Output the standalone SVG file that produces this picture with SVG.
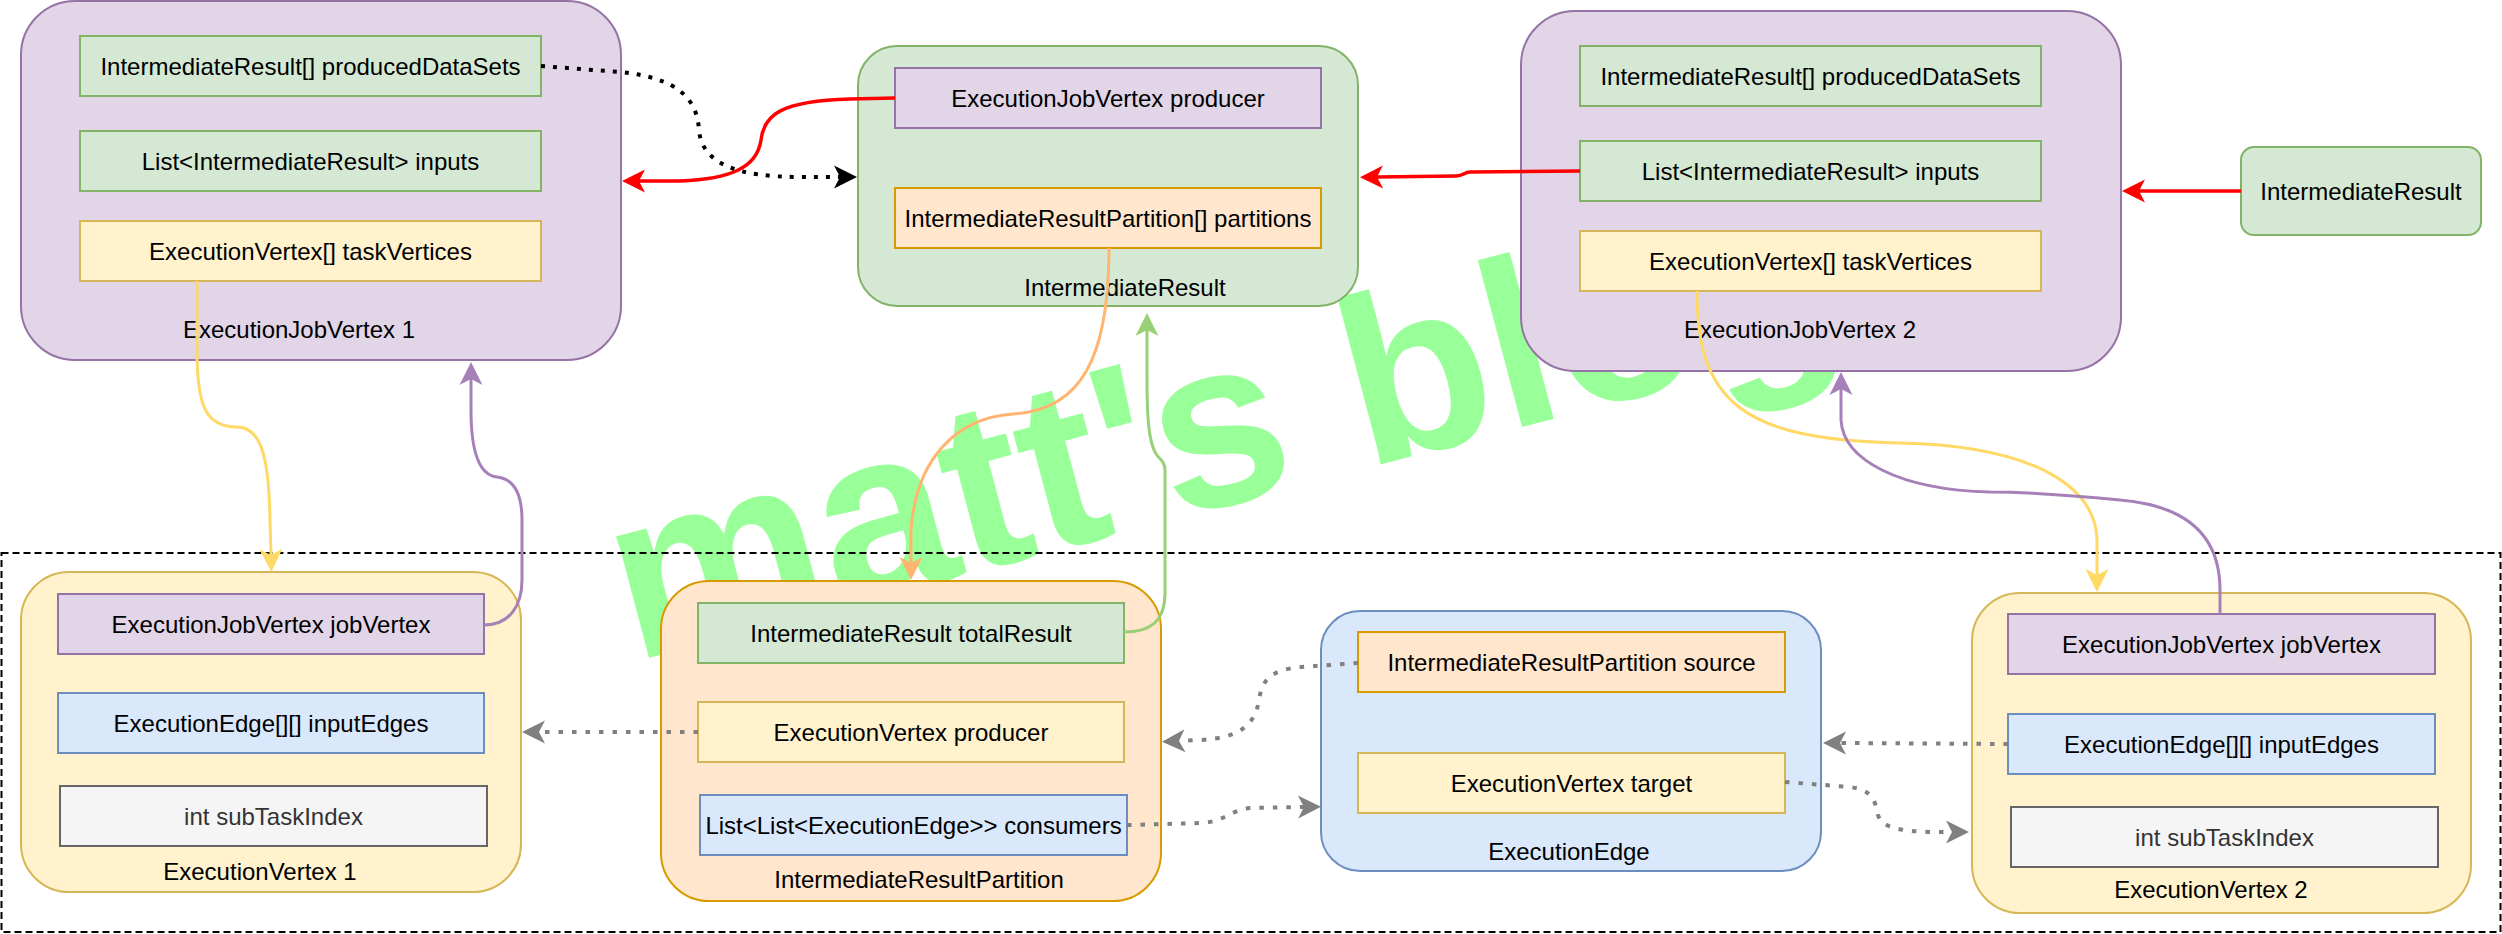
<svg xmlns="http://www.w3.org/2000/svg" width="2502" height="934" viewBox="0 0 2502 934">
<style>
.t{font-family:"Liberation Sans",Arial,Helvetica,sans-serif;font-size:24px;fill:#000;text-anchor:middle}
.tg{fill:#333}
.pu{fill:#e1d5e7;stroke:#9673a6;stroke-width:2}
.gr{fill:#d5e8d4;stroke:#82b366;stroke-width:2}
.ye{fill:#fff2cc;stroke:#d6b656;stroke-width:2}
.or{fill:#ffe6cc;stroke:#d79b00;stroke-width:2}
.bl{fill:#dae8fc;stroke:#6c8ebf;stroke-width:2}
.gy{fill:#f5f5f5;stroke:#666666;stroke-width:2}
.c{fill:none}
.red{stroke:#FF0000;stroke-width:3.5;marker-end:url(#mRed)}
.yel{stroke:#FFD966;stroke-width:3;marker-end:url(#mYel)}
.pur{stroke:#A680B8;stroke-width:3;marker-end:url(#mPur)}
.ora{stroke:#FFB570;stroke-width:3;marker-end:url(#mOra)}
.grn{stroke:#97D077;stroke-width:3;marker-end:url(#mGrn)}
.blk{stroke:#000;stroke-width:4;stroke-dasharray:4 8;marker-end:url(#mBlk)}
.gry{stroke:#808080;stroke-width:4;stroke-dasharray:4.5 9;marker-end:url(#mGry)}
.wm{font-family:"Liberation Sans",Arial,Helvetica,sans-serif;font-weight:bold;font-size:238px;fill:#99FF99}
</style>
<defs>
<marker id="mRed" markerUnits="userSpaceOnUse" viewBox="-8 -13 28 26" markerWidth="28" markerHeight="26" refX="0" refY="0" orient="auto"><path d="M17,0 L-6,-11.5 L0,0 L-6,11.5 Z" fill="#FF0000"/></marker>
<marker id="mYel" markerUnits="userSpaceOnUse" viewBox="-8 -13 28 26" markerWidth="28" markerHeight="26" refX="0" refY="0" orient="auto"><path d="M17,0 L-6,-11.5 L0,0 L-6,11.5 Z" fill="#FFD966"/></marker>
<marker id="mPur" markerUnits="userSpaceOnUse" viewBox="-8 -13 28 26" markerWidth="28" markerHeight="26" refX="0" refY="0" orient="auto"><path d="M17,0 L-6,-11.5 L0,0 L-6,11.5 Z" fill="#A680B8"/></marker>
<marker id="mOra" markerUnits="userSpaceOnUse" viewBox="-8 -13 28 26" markerWidth="28" markerHeight="26" refX="0" refY="0" orient="auto"><path d="M17,0 L-6,-11.5 L0,0 L-6,11.5 Z" fill="#FFB570"/></marker>
<marker id="mGrn" markerUnits="userSpaceOnUse" viewBox="-8 -13 28 26" markerWidth="28" markerHeight="26" refX="0" refY="0" orient="auto"><path d="M17,0 L-6,-11.5 L0,0 L-6,11.5 Z" fill="#97D077"/></marker>
<marker id="mBlk" markerUnits="userSpaceOnUse" viewBox="-8 -13 28 26" markerWidth="28" markerHeight="26" refX="0" refY="0" orient="auto"><path d="M17,0 L-6,-11.5 L0,0 L-6,11.5 Z" fill="#000000"/></marker>
<marker id="mGry" markerUnits="userSpaceOnUse" viewBox="-8 -13 28 26" markerWidth="28" markerHeight="26" refX="0" refY="0" orient="auto"><path d="M17,0 L-6,-11.5 L0,0 L-6,11.5 Z" fill="#808080"/></marker>
</defs>
<rect width="2502" height="934" fill="#ffffff"/>
<text class="wm" transform="translate(633,662) rotate(-14.8)">matt's blog</text>
<rect id="bottom-frame" x="1.5" y="553" width="2499" height="379" fill="none" stroke="#000" stroke-width="2" stroke-dasharray="7 4"/>

<g id="ExecutionJobVertex1">
<rect class="pu" x="21" y="1" width="600" height="359" rx="54"/>
<rect class="gr" x="80" y="36" width="461" height="60"/><text class="t" x="310.5" y="75">IntermediateResult[] producedDataSets</text>
<rect class="gr" x="80" y="131" width="461" height="60"/><text class="t" x="310.5" y="170">List&lt;IntermediateResult&gt; inputs</text>
<rect class="ye" x="80" y="221" width="461" height="60"/><text class="t" x="310.5" y="260">ExecutionVertex[] taskVertices</text>
<text class="t" x="299" y="338">ExecutionJobVertex 1</text>
</g>
<g id="IntermediateResult">
<rect class="gr" x="858" y="46" width="500" height="260" rx="39"/>
<rect class="pu" x="895" y="68" width="426" height="60"/><text class="t" x="1108" y="107">ExecutionJobVertex producer</text>
<rect class="or" x="895" y="188" width="426" height="60"/><text class="t" x="1108" y="227">IntermediateResultPartition[] partitions</text>
<text class="t" x="1125" y="296">IntermediateResult</text>
</g>
<g id="ExecutionJobVertex2">
<rect class="pu" x="1521" y="11" width="600" height="360" rx="54"/>
<rect class="gr" x="1580" y="46" width="461" height="60"/><text class="t" x="1810.5" y="85">IntermediateResult[] producedDataSets</text>
<rect class="gr" x="1580" y="141" width="461" height="60"/><text class="t" x="1810.5" y="180">List&lt;IntermediateResult&gt; inputs</text>
<rect class="ye" x="1580" y="231" width="461" height="60"/><text class="t" x="1810.5" y="270">ExecutionVertex[] taskVertices</text>
<text class="t" x="1800" y="338">ExecutionJobVertex 2</text>
</g>
<g id="IntermediateResultInput">
<rect class="gr" x="2241" y="147" width="240" height="88" rx="13"/>
<text class="t" x="2361" y="200">IntermediateResult</text>
</g>
<g id="ExecutionVertex1">
<rect class="ye" x="21" y="572" width="500" height="320" rx="48"/>
<rect class="pu" x="58" y="594" width="426" height="60"/><text class="t" x="271" y="633">ExecutionJobVertex jobVertex</text>
<rect class="bl" x="58" y="693" width="426" height="60"/><text class="t" x="271" y="732">ExecutionEdge[][] inputEdges</text>
<rect class="gy" x="60" y="786" width="427" height="60"/><text class="t tg" x="273.5" y="825">int subTaskIndex</text>
<text class="t" x="260" y="880">ExecutionVertex 1</text>
</g>
<g id="IntermediateResultPartition">
<rect class="or" x="661" y="581" width="500" height="320" rx="48"/>
<rect class="gr" x="698" y="603" width="426" height="60"/><text class="t" x="911" y="642">IntermediateResult totalResult</text>
<rect class="ye" x="698" y="702" width="426" height="60"/><text class="t" x="911" y="741">ExecutionVertex producer</text>
<rect class="bl" x="700" y="795" width="427" height="60"/><text class="t" x="913.5" y="834">List&lt;List&lt;ExecutionEdge&gt;&gt; consumers</text>
<text class="t" x="919" y="888">IntermediateResultPartition</text>
</g>
<g id="ExecutionEdge">
<rect class="bl" x="1321" y="611" width="500" height="260" rx="39"/>
<rect class="or" x="1358" y="632" width="427" height="60"/><text class="t" x="1571.5" y="671">IntermediateResultPartition source</text>
<rect class="ye" x="1358" y="753" width="427" height="60"/><text class="t" x="1571.5" y="792">ExecutionVertex target</text>
<text class="t" x="1569" y="860">ExecutionEdge</text>
</g>
<g id="ExecutionVertex2">
<rect class="ye" x="1972" y="593" width="499" height="320" rx="48"/>
<rect class="pu" x="2008" y="614" width="427" height="60"/><text class="t" x="2221.5" y="653">ExecutionJobVertex jobVertex</text>
<rect class="bl" x="2008" y="714" width="427" height="60"/><text class="t" x="2221.5" y="753">ExecutionEdge[][] inputEdges</text>
<rect class="gy" x="2011" y="807" width="427" height="60"/><text class="t tg" x="2224.5" y="846">int subTaskIndex</text>
<text class="t" x="2211" y="898">ExecutionVertex 2</text>
</g>

<g id="connectors">
<path class="c red" d="M895,98 L850,99 C780,101 764,115 761,140 C757,168 730,179 680,181 L639,181"/>
<path class="c blk" d="M541,66 L620,72 C680,78 697,100 699,130 C702,165 740,177 800,177 L840,177"/>
<path class="c red" d="M1580,171 L1470,172 C1464,172 1464,176 1456,176 L1377,177"/>
<path class="c red" d="M2241,191 L2139,191"/>
<path class="c yel" d="M197,281 L197,350 C197,405 205,427 237,427 C262,427 269,460 270,520 L271,555"/>
<path class="c pur" d="M484,625 C510,625 522,605 522,580 L522,520 C522,495 515,479 497,477 C478,475 471,450 471,410 L471,379"/>
<path class="c ora" d="M1109,248 C1109,360 1080,410 1013,414 C955,418 916,460 911,530 L911,563"/>
<path class="c grn" d="M1124,632 C1150,632 1164,622 1165,595 L1165,470 C1165,460 1158,459 1155,452 C1149,440 1147,420 1147,380 L1147,330"/>
<path class="c yel" d="M1697,291 C1697,400 1740,440 1900,443 C2040,446 2096,490 2097,540 L2097,575"/>
<path class="c pur" d="M2220,614 L2220,590 C2220,530 2180,505 2120,500 C2070,495 2030,492 1990,492 C1900,490 1843,460 1841,420 L1841,389"/>
<path class="c gry" d="M698,732 L539,732"/>
<path class="c gry" d="M1358,663 L1301,667 C1270,670 1262,680 1259,700 C1255,725 1240,738 1200,740 L1179,741"/>
<path class="c gry" d="M1127,825 L1200,823 C1225,822 1230,810 1250,808 L1304,807"/>
<path class="c gry" d="M2008,744 L1840,743"/>
<path class="c gry" d="M1785,782 L1850,787 C1872,790 1875,800 1878,815 C1882,828 1900,831 1930,832 L1952,832"/>
</g>
</svg>
